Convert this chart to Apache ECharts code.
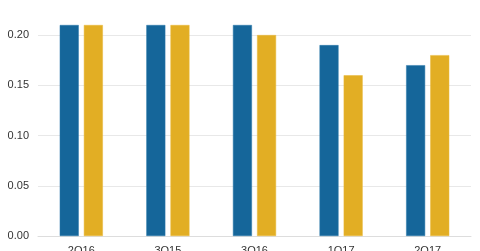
<!DOCTYPE html>
<html><head><meta charset="utf-8">
<script src="https://cdn.jsdelivr.net/npm/echarts@6/dist/echarts.min.js"></script>
<style>html,body{margin:0;padding:0;background:#fff}#c{width:480px;height:251px}</style>
</head><body><div id="c"></div>
<script>
const categories = ['2Q16', '3Q15', '3Q16', '1Q17', '2Q17'];
const seriesA = [0.21, 0.21, 0.21, 0.19, 0.17];
const seriesB = [0.21, 0.21, 0.20, 0.16, 0.18];
const yTicks = [0, 0.05, 0.10, 0.15, 0.20];

const chart = echarts.init(document.getElementById('c'), null, {renderer: 'canvas'});
chart.setOption({
  animation: false,
  grid: {left: 38, right: 9, top: 25, bottom: 15, containLabel: false, outerBoundsMode: 'none'},
  xAxis: {
    type: 'category', data: categories,
    axisLine: {show: true, lineStyle: {color: '#dddddd'}},
    axisTick: {show: false},
    axisLabel: {color: '#333', fontFamily: 'Liberation Sans', fontSize: 11, margin: 9}
  },
  yAxis: {
    type: 'value', min: 0, max: 0.21, interval: 0.05,
    axisLine: {show: false}, axisTick: {show: false},
    axisLabel: {color: '#333', fontFamily: 'Liberation Sans', fontSize: 11, margin: 9,
      showMaxLabel: false,
      formatter: v => yTicks.some(t => Math.abs(t - v) < 1e-9) ? v.toFixed(2) : ''},
    splitLine: {show: true, showMaxLine: false, lineStyle: {color: '#e8e8e8'}}
  },
  series: [
    {type: 'bar', data: seriesA, barWidth: 19, barGap: '27%',
     itemStyle: {color: '#15669a', borderColor: '#2a78aa', borderWidth: 0.5}},
    {type: 'bar', data: seriesB, barWidth: 19,
     itemStyle: {color: '#e2ae24', borderColor: '#e8b83a', borderWidth: 0.5}}
  ]
});
</script></body></html>
